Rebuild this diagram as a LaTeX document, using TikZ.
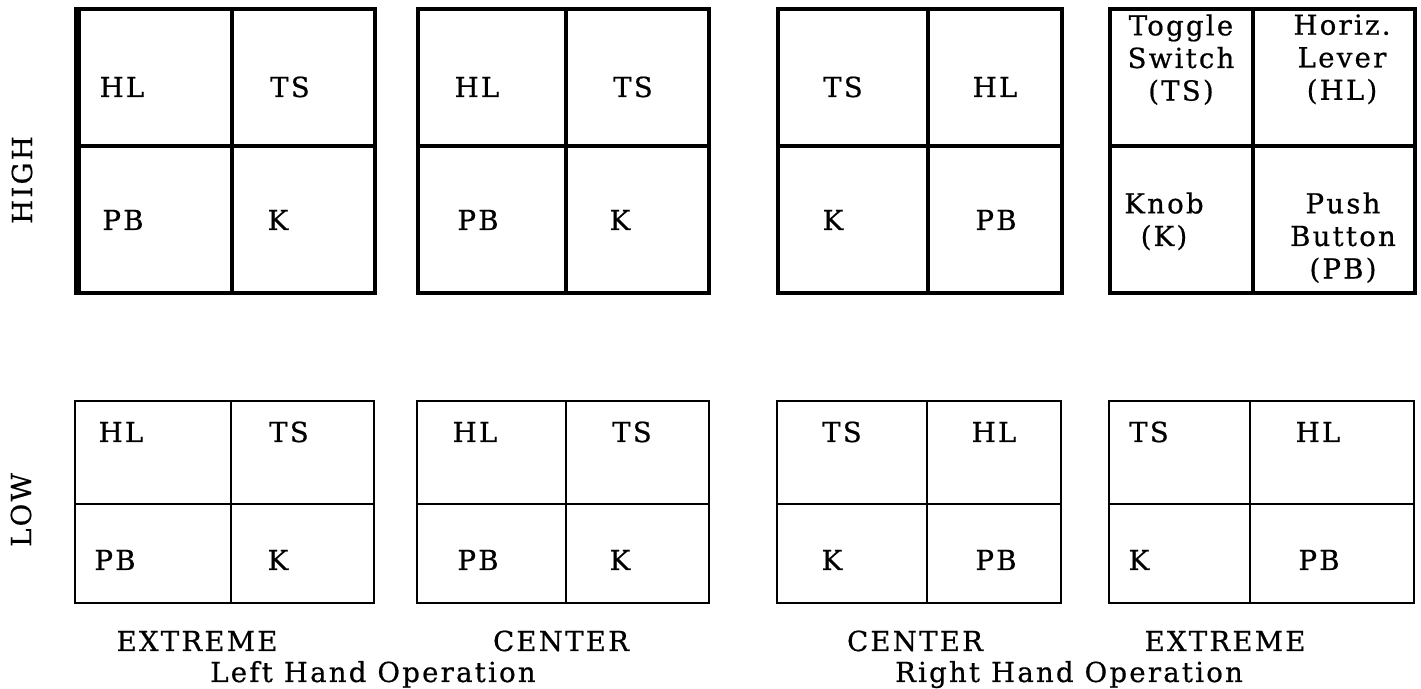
\documentclass[tikz,border=0pt]{standalone}
\usepackage{fontspec}
\setmainfont{DejaVu Serif}[LetterSpace=8, FakeBold=0.6]

\begin{document}
\begin{tikzpicture}[x=0.5pt,y=-0.5pt,
    lab/.style={anchor=base, inner sep=0pt, font=\fontsize{13.8}{16.3}\selectfont},
    multi/.style={anchor=north, inner sep=0pt, align=center, font=\fontsize{13.8}{16.3}\selectfont},
    highgrid/.style={line width=1.6pt},
    lowgrid/.style={line width=1.3pt}]
    \useasboundingbox (0,0) rectangle (1421,689);

    % HIGH row
    \draw[highgrid] (76,9) rectangle (375,293) (232,9) -- (232,293) (76,146) -- (375,146);
    \draw[line width=3.5pt] (77,9) -- (77,293);
    \draw[highgrid] (418,9) rectangle (709,293) (566,9) -- (566,293) (418,146) -- (709,146);
    \draw[highgrid] (778,9) rectangle (1062,293) (928,9) -- (928,293) (778,146) -- (1062,146);
    \draw[highgrid] (1110,9) rectangle (1415,293) (1253,9) -- (1253,293) (1110,146) -- (1415,146);

    % LOW row
    \draw[lowgrid] (75,401) rectangle (374,603) (231,401) -- (231,603) (75,504) -- (374,504);
    \draw[lowgrid] (417,401) rectangle (709,603) (566,401) -- (566,603) (417,504) -- (709,504);
    \draw[lowgrid] (777,401) rectangle (1061,603) (927,401) -- (927,603) (777,504) -- (1061,504);
    \draw[lowgrid] (1109,401) rectangle (1414,603) (1250,401) -- (1250,603) (1109,504) -- (1414,504);

    \node[lab, rotate=90, anchor=center] (high) at (22,180) {HIGH};
    \node[lab, rotate=90, anchor=center] (low) at (21,510) {LOW};

    \node[lab] (h1hl) at (122,97) {HL};
    \node[lab] (h1ts) at (290,97) {TS};
    \node[lab] (h1pb) at (123,230) {PB};
    \node[lab] (h1k) at (278,230) {K};
    \node[lab] (h2hl) at (477,97) {HL};
    \node[lab] (h2ts) at (633,97) {TS};
    \node[lab] (h2pb) at (478,230) {PB};
    \node[lab] (h2k) at (620,230) {K};
    \node[lab] (h3ts) at (843,97) {TS};
    \node[lab] (h3hl) at (995,97) {HL};
    \node[lab] (h3k) at (833,230) {K};
    \node[lab] (h3pb) at (996,230) {PB};
    \node[multi] (h4ts) at (1181,14) {Toggle\\Switch\\(TS)};
    \node[multi] (h4hl) at (1342,14) {Horiz.\\Lever\\(HL)};
    \node[multi] (h4k) at (1164,192) {Knob\\(K)};
    \node[multi] (h4pb) at (1343,192) {Push\\Button\\(PB)};

    \node[lab] (l1hl) at (121,442) {HL};
    \node[lab] (l1ts) at (289,442) {TS};
    \node[lab] (l1pb) at (115,570) {PB};
    \node[lab] (l1k) at (278,570) {K};
    \node[lab] (l2hl) at (475,442) {HL};
    \node[lab] (l2ts) at (632,442) {TS};
    \node[lab] (l2pb) at (478,570) {PB};
    \node[lab] (l2k) at (620,570) {K};
    \node[lab] (l3ts) at (842,442) {TS};
    \node[lab] (l3hl) at (994,442) {HL};
    \node[lab] (l3k) at (832,570) {K};
    \node[lab] (l3pb) at (996,570) {PB};
    \node[lab] (l4ts) at (1149,442) {TS};
    \node[lab] (l4hl) at (1318,442) {HL};
    \node[lab] (l4k) at (1139,570) {K};
    \node[lab] (l4pb) at (1319,570) {PB};

    \node[lab] (lext) at (197,651) {EXTREME};
    \node[lab] (lcen) at (561,651) {CENTER};
    \node[lab] (rcen) at (915,651) {CENTER};
    \node[lab] (rext) at (1225,651) {EXTREME};
    \node[lab] (lhand) at (373,682) {Left Hand Operation};
    \node[lab] (rhand) at (1069,682) {Right Hand Operation};

\end{tikzpicture}
\end{document}
